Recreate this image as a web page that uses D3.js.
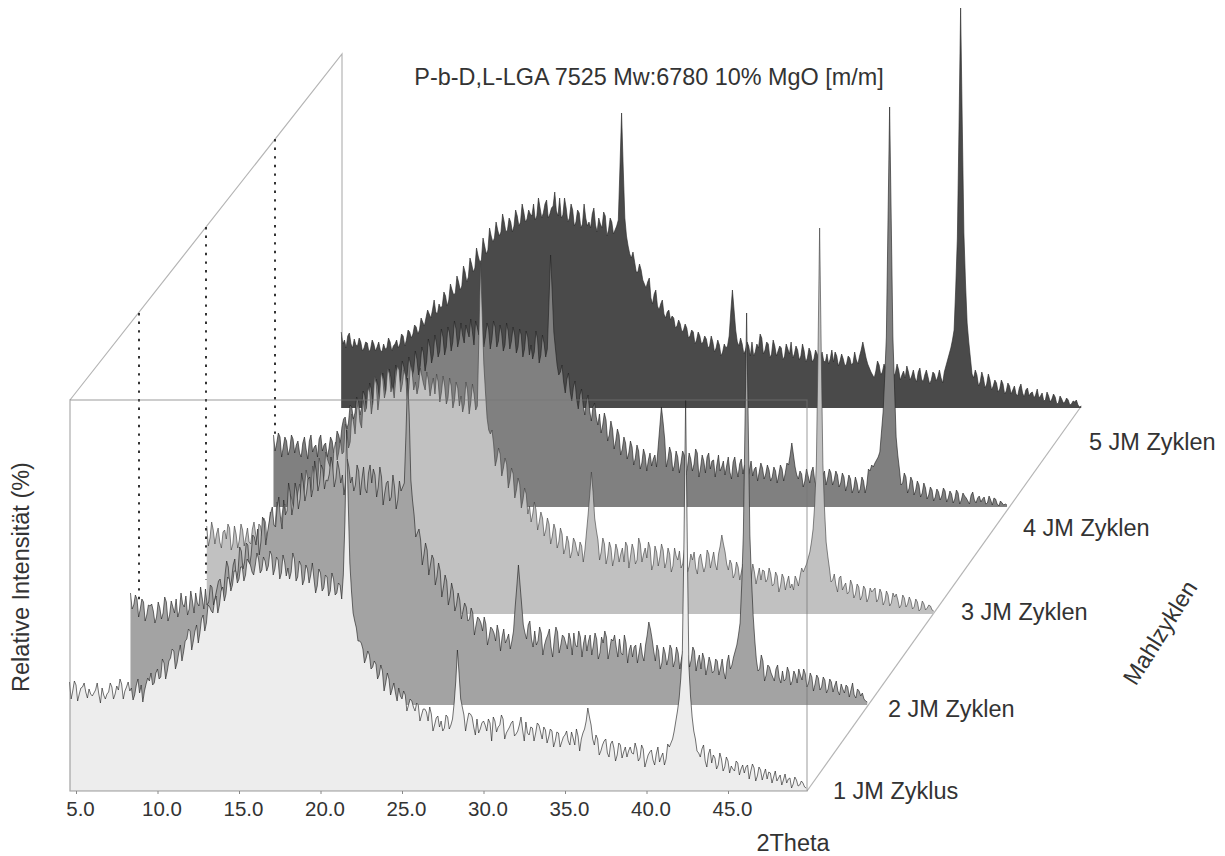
<!DOCTYPE html>
<html><head><meta charset="utf-8">
<script src="https://cdn.jsdelivr.net/npm/d3@7/dist/d3.min.js"></script>
<style>html,body{margin:0;background:#fff}svg{display:block}text{font-family:"Liberation Sans",Arial,sans-serif;fill:#333}</style>
</head><body><svg id="c" width="1225" height="856"></svg>
<script>
const seriesNames=["1 JM Zyklus","2 JM Zyklen","3 JM Zyklen","4 JM Zyklen","5 JM Zyklen"];
const tickValues=[5,10,15,20,25,30,35,40,45];
const stepTheta=0.1;
const startThetas=[4.6,4.6,4.8,4.6,4.4];
const cycle1=[
109,100,106,97,104,99,102,95,101,97,103,92,99,104,97,101,107,100,109,103,96,112,106,100,113,
118,108,122,114,128,120,133,140,128,146,139,152,160,150,166,158,176,168,184,178,195,186,204,197,212,
206,220,212,224,216,229,219,226,232,221,230,225,236,222,231,218,229,223,219,232,214,226,211,222,216,
212,205,218,203,214,200,212,198,206,216,361,228,178,163,150,142,133,136,124,127,116,120,108,112,102,
98,103,92,96,86,90,80,86,76,82,70,77,66,75,70,63,74,66,88,141,92,76,70,77,64,
72,62,70,60,68,74,59,66,72,58,64,70,57,66,61,69,56,63,58,66,52,61,54,60,50,
58,49,56,50,59,46,55,52,62,83,66,46,52,40,50,38,47,43,36,46,39,34,44,37,42,
33,42,30,39,31,37,29,38,32,44,52,70,92,140,391,125,74,52,38,42,30,37,28,33,26,
32,24,30,25,20,28,22,18,26,20,23,15,21,17,12,18,14,10,16,11,8,13,7,11,6,
8,3];
const cycle1Mid=[
92,110,90,103,108,93,97,98,108,88,96,97,108,92,105,112,92,104,100,91,106,98,89,107,110,
106,118,112,132,112,130,142,122,138,130,150,162,141,160,148,172,160,186,180,190,178,200,190,214,200,
220,208,224,210,232,226,216,238,218,234,220,240,216,234,212,236,215,212,238,210,230,206,226,208,228,
198,222,200,216,195,218,196,208,192,270,290,200,170,150,148,128,140,122,130,112,126,100,118,96,108,
90,95,100,80,92,84,88,70,82,79,84,60,73,64,60,76,62,72,110,118,84,60,78,74,56,
58,68,66,72,50,70,64,76,52,61,68,55,60,74,50,58,64,50,68,59,64,48,62,44,59,
44,54,60,46,53,62,40,58,70,74,52,56,36,46,52,34,50,30,48,33,44,40,38,48,30,
46,24,36,41,26,44,34,26,47,48,60,80,112,250,250,95,60,40,34,46,24,42,36,22,38,
20,34,18,22,30,16,26,24,12,27,10,24,11,22,19,8,20,13,6,17,12,3,14,5,10,
4];
const cycle2=[
112,100,106,96,103,90,99,94,88,97,92,103,90,98,106,94,101,109,96,104,112,99,107,116,103,
118,108,124,115,130,138,125,146,134,154,143,160,150,168,176,163,184,172,192,180,198,188,205,194,212,
200,214,206,222,212,228,216,233,222,236,225,231,240,226,236,230,224,238,228,220,234,226,216,232,222,
230,218,228,212,224,208,218,205,214,222,327,225,190,172,165,150,155,140,146,128,134,118,124,108,114,
100,105,94,98,86,92,80,86,74,81,68,76,64,72,68,62,71,64,98,140,100,72,80,66,74,
64,72,60,70,58,66,73,60,68,56,65,72,58,68,62,54,70,60,66,52,62,68,55,64,58,
66,50,62,55,48,60,52,50,60,83,66,44,54,42,52,47,56,44,52,46,40,50,45,54,44,
36,46,38,42,34,44,37,33,43,36,48,60,82,172,392,170,90,45,36,44,30,38,28,36,27,
34,26,33,24,30,36,25,31,22,28,21,27,18,25,16,23,19,14,21,12,18,15,10,16,9,
6,3];
const cycle2Mid=[
96,110,88,106,84,100,101,82,103,86,108,84,104,92,88,112,98,90,114,92,102,118,96,100,120,
100,116,126,108,144,118,140,124,158,136,162,138,170,160,150,188,160,182,198,178,208,176,190,222,190,
222,196,232,204,226,208,244,214,240,216,224,248,218,244,222,210,246,222,214,240,210,238,212,240,236,
208,238,200,222,204,230,196,224,218,270,290,205,168,176,140,162,130,150,120,142,108,130,100,122,94,
112,86,102,84,97,70,88,82,88,60,78,72,80,54,76,66,56,74,118,120,80,66,84,58,60,
78,50,66,76,48,78,52,70,62,72,50,60,74,48,70,64,50,72,46,68,74,46,66,70,48,
52,70,42,60,58,42,62,44,70,76,54,60,36,58,40,60,38,58,36,54,52,38,58,34,50,
52,30,48,32,46,30,46,26,50,40,54,70,120,280,280,125,65,34,50,24,40,32,24,40,22,
24,38,20,34,22,30,36,18,32,14,30,15,28,12,26,13,24,10,16,20,8,22,7,14,12,
4];
const cycle3=[
88,76,84,80,72,82,75,86,70,80,74,84,77,72,85,80,90,78,92,84,100,90,106,97,
110,100,116,105,122,112,128,136,122,140,130,148,138,155,146,164,154,174,162,182,172,192,204,192,214,
206,222,212,230,218,235,224,240,228,236,244,230,238,226,242,232,228,238,224,234,228,220,232,222,228,
216,228,214,226,218,210,224,212,220,208,351,250,196,180,170,155,160,146,150,134,140,124,130,114,120,
108,100,104,92,96,84,90,78,84,72,80,66,72,62,72,58,68,64,100,142,96,74,62,70,58,
66,56,64,60,52,68,58,64,54,70,60,56,66,50,62,57,64,52,60,48,58,63,50,56,48,
54,46,56,50,48,60,54,50,60,79,62,44,50,40,47,42,38,46,36,42,38,34,43,35,40,
30,38,28,36,32,26,24,34,38,42,50,62,85,150,386,150,72,46,34,29,36,24,31,22,29,
20,27,18,25,16,22,26,15,21,13,19,11,17,14,9,16,10,13,7,12,5,10,6,8,3];
const cycle3Mid=[
68,92,70,86,66,84,90,64,88,66,90,68,86,70,92,72,88,96,74,102,82,112,88,108,
94,120,108,112,130,104,144,118,148,124,156,128,162,150,136,172,162,160,190,166,200,180,212,186,202,
226,200,238,204,242,216,246,222,216,248,222,244,214,250,224,220,246,230,242,218,236,240,212,238,210,
236,206,232,208,202,232,200,230,204,280,300,222,184,184,148,166,138,156,126,146,116,136,106,126,100,
92,112,84,102,78,96,70,90,66,86,60,78,56,76,64,72,52,82,120,122,84,54,76,50,72,
48,70,52,66,72,46,70,50,76,52,66,72,44,68,48,70,46,66,42,66,54,46,64,42,60,
62,40,60,42,64,46,62,44,68,70,50,54,36,52,34,50,48,32,50,30,46,44,32,46,28,
42,22,40,24,38,30,38,28,46,46,56,72,110,260,260,105,58,32,40,22,38,28,20,34,16,
30,14,28,12,26,24,12,25,9,23,8,21,20,6,19,7,17,5,15,3,13,4,9,4];
const cycle4=[
72,64,70,60,66,58,68,62,54,64,58,66,55,62,68,56,64,58,66,60,72,80,90,84,100,
94,106,99,112,104,118,110,122,115,126,118,130,124,134,128,140,132,144,137,148,141,154,146,160,152,
164,156,170,160,174,165,178,168,172,182,170,176,186,172,180,170,178,168,180,166,174,162,176,166,172,
160,172,158,170,162,155,168,152,164,158,252,175,142,135,125,128,116,120,108,112,102,106,96,100,90,
93,82,87,72,78,66,72,58,64,54,60,49,56,44,52,47,41,52,60,100,68,48,54,42,50,
44,52,40,48,43,54,39,46,50,38,47,42,36,46,41,35,45,38,43,33,41,37,31,40,35,
39,33,37,30,36,32,38,34,42,64,40,28,33,26,31,35,27,32,25,36,29,34,27,32,24,
30,22,28,19,24,18,26,22,36,40,47,55,95,170,400,170,70,38,24,30,19,26,17,22,14,
19,12,17,10,15,11,16,9,13,8,14,7,11,6,12,7,9,5,10,4,7,9,3,6,2,
2];
const cycle4Mid=[
56,74,50,70,52,72,54,66,50,70,48,72,60,50,72,62,50,70,54,76,64,88,78,102,88,
110,92,116,98,124,102,128,108,134,110,138,114,142,120,146,124,150,130,156,132,160,136,168,144,172,
150,178,152,180,156,186,160,184,164,176,188,162,180,190,160,184,158,186,160,182,156,184,158,180,154,
178,150,176,152,148,176,144,172,150,205,215,158,132,142,114,134,106,126,98,118,92,112,86,104,82,
74,94,66,86,58,78,52,70,48,66,42,62,38,58,36,54,48,40,80,85,40,60,36,56,34,
56,32,54,36,58,30,52,34,54,46,30,52,40,32,50,28,50,30,48,42,28,46,38,26,44,
28,42,26,40,24,42,26,44,52,52,32,36,20,38,24,40,20,38,32,22,38,22,36,20,34,
16,32,14,30,14,30,14,38,42,44,50,75,130,285,285,120,52,22,34,14,30,12,26,10,24,
8,20,6,18,7,19,5,16,4,17,3,14,9,3,15,4,11,8,3,11,2,8,1,4,3];
const cycle5=[
76,68,72,64,69,62,66,60,65,59,64,61,58,64,60,66,62,68,64,72,68,76,74,81,78,86,
90,94,98,96,104,102,112,108,118,115,126,122,136,131,144,140,152,148,162,158,172,170,178,176,186,
178,186,182,192,186,196,189,194,204,192,200,195,208,194,202,197,210,193,200,190,198,186,195,184,190,
186,194,183,190,180,192,178,186,178,188,295,190,162,150,146,136,138,124,126,110,114,102,104,94,96,
88,90,82,84,78,80,72,76,68,72,66,69,62,66,60,63,56,60,72,118,78,62,64,58,62,
66,56,60,70,58,64,54,62,57,60,52,59,66,54,58,52,57,50,56,49,54,51,47,54,49,
46,52,47,49,44,50,45,48,52,66,50,40,33,37,43,36,40,33,42,35,38,33,30,36,32,
30,36,29,33,31,28,34,31,30,36,48,60,78,170,400,175,85,50,30,33,26,30,24,28,22,
25,19,24,17,22,18,14,20,15,18,12,16,13,10,15,8,12,9,11,5,9,6,8,4,6,
3,2];
const cycle5Mid=[
64,60,75,60,63,70,57,66,56,68,57,66,56,59,70,57,64,60,74,62,78,70,83,74,90,82,
98,90,108,94,100,116,102,124,113,132,118,142,126,150,136,160,146,170,154,180,166,186,172,194,176,
190,176,198,182,204,186,198,192,188,210,190,204,190,200,216,192,190,210,186,204,182,198,180,204,182,
180,200,176,184,196,172,190,174,182,240,240,172,154,156,136,144,128,120,130,104,118,98,108,90,98,
92,80,88,76,84,70,78,64,76,64,72,60,72,56,68,52,64,62,96,98,66,70,54,66,52,
52,64,74,54,66,50,68,52,62,48,64,54,50,62,48,64,46,60,46,58,48,56,46,44,58,
56,42,54,42,52,43,56,44,58,58,44,36,30,47,33,44,30,46,32,44,28,37,42,28,38,
26,40,26,38,24,36,27,38,25,42,54,68,120,280,285,125,66,34,38,22,36,20,34,18,28,
16,28,14,25,14,22,12,24,11,20,15,10,19,12,7,16,6,14,4,12,5,10,3,7,8,
1];
const cycles=[cycle1,cycle2,cycle3,cycle4,cycle5];
const cycleMids=[cycle1Mid,cycle2Mid,cycle3Mid,cycle4Mid,cycle5Mid];

const fills=["#ededed","#a3a3a3","#c1c1c1","#808080","#4a4a4a"];
const strokes=["#222","#222","#444","#222","#2b2b2b"];
const shiftX=[0,61,134,204,275];
const baseY=[791,705,614,507,408];

const svg=d3.select("#c");
const x=d3.scaleLinear().domain([5,45]).range([76,728]);
const h=d3.scaleLinear().domain([0,400]).range([0,400]);

const frame=svg.append("g").attr("fill","none").attr("stroke","#b5b5b5").attr("stroke-width",1.2);
frame.append("path").attr("d","M70,400L342,54L342,408");
frame.append("path").attr("d","M807,791L1080,408");

const plot=svg.append("g");
d3.range(4,-1,-1).forEach(k=>{
  const vals=d3.merge(cycles[k].map((v,i)=>cycleMids[k][i]!==undefined?[v,cycleMids[k][i]]:[v]));
  const rows=vals.map((v,i)=>({theta:startThetas[k]+stepTheta*i,v}));
  const px=d=>x(d.theta)+shiftX[k];
  const py=d=>baseY[k]-h(d.v);
  plot.append("path").datum(rows).attr("fill",fills[k]).attr("stroke","none")
    .attr("d",d3.area().x(px).y0(baseY[k]).y1(py));
  plot.append("path").datum(rows).attr("fill","none").attr("stroke",strokes[k])
    .attr("stroke-width",0.75).attr("stroke-opacity",0.85)
    .attr("d",d3.line().x(px).y(py));
});

const guides=svg.append("g").attr("stroke","#333").attr("stroke-width",2).attr("stroke-dasharray","2.4,6.2");
[[139,313,600],[206,227,580],[275,139,440]].forEach(g=>{
  guides.append("line").attr("x1",g[0]).attr("x2",g[0]).attr("y1",g[1]).attr("y2",g[2]);
});

svg.append("rect").attr("x",70).attr("y",400).attr("width",737).attr("height",391)
  .attr("fill","none").attr("stroke","#777").attr("stroke-opacity",0.6).attr("stroke-width",1.2);

const axis=d3.axisBottom(x).tickValues(tickValues).tickFormat(d3.format(".1f")).tickSize(3).tickPadding(6);
const ax=svg.append("g").attr("transform","translate(0,791)").call(axis);
ax.select(".domain").remove();
ax.selectAll("line").attr("stroke","#888");
ax.selectAll("text").attr("font-size",20.5).attr("dx",4).attr("fill","#333").attr("dy","0.8em");

const labelPos=[[833,799],[888,717],[961,620],[1023,536],[1089,450]];
seriesNames.forEach((s,i)=>svg.append("text").attr("x",labelPos[i][0]).attr("y",labelPos[i][1]).attr("font-size",23.5).text(s));
svg.append("text").attr("x",649).attr("y",85).attr("text-anchor","middle").attr("font-size",23.4).text("P-b-D,L-LGA 7525 Mw:6780 10% MgO [m/m]");
svg.append("text").attr("x",793).attr("y",851).attr("text-anchor","middle").attr("font-size",23.5).text("2Theta");
svg.append("text").attr("transform","translate(29,577) rotate(-90)").attr("text-anchor","middle").attr("font-size",23.5).text("Relative Intensität (%)");
svg.append("text").attr("transform","translate(1167,637) rotate(-58)").attr("text-anchor","middle").attr("font-size",23.5).text("Mahlzyklen");
</script></body></html>
